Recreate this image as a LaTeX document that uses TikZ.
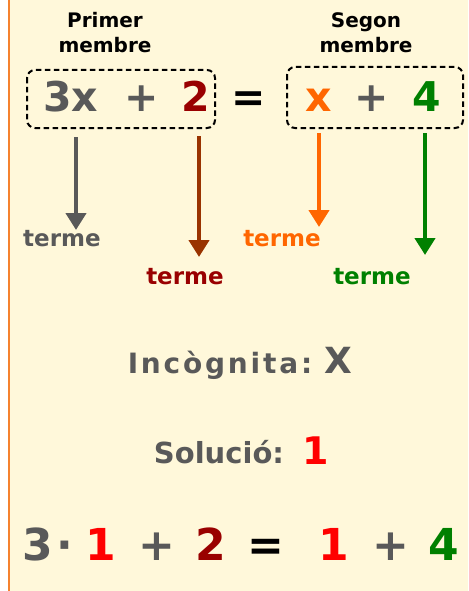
\documentclass[tikz,border=0pt]{standalone}
\usepackage{fontspec}
\setmainfont{DejaVu Sans}
\newfontfamily\espaiada[LetterSpace=10]{DejaVu Sans}
\usetikzlibrary{arrows.meta}
\definecolor{fonsc}{HTML}{FFF8DA}
\definecolor{vorac}{HTML}{F5822F}
\definecolor{grisc}{HTML}{595959}
\definecolor{vermellfosc}{HTML}{990000}
\definecolor{marroc}{HTML}{993300}
\definecolor{taronjac}{HTML}{FF6600}
\definecolor{verdc}{HTML}{008000}
\definecolor{vermellc}{HTML}{FF0000}

\begin{document}
\begin{tikzpicture}[x=1pt, y=-1pt,
  xifra/.style={anchor=base, inner sep=0pt, font=\bfseries\fontsize{41}{41}\selectfont},
  xifrab/.style={anchor=base, inner sep=0pt, font=\bfseries\fontsize{44}{44}\selectfont},
  rotol/.style={anchor=base, inner sep=0pt, font=\bfseries\fontsize{20}{20}\selectfont},
  terme/.style={anchor=base, inner sep=0pt, font=\bfseries\fontsize{23}{23}\selectfont},
  fletxa/.style={line width=4.5pt, -{Triangle[width=20pt, length=17pt]}},
  caixa/.style={draw=black, line width=2pt, dash pattern=on 5.5pt off 3.5pt, rounded corners=8pt}]
  \useasboundingbox (0,0) rectangle (468,591);
  \fill[white] (0,0) rectangle (468,591);
  \fill[fonsc] (9,0) rectangle (468,591);
  \draw[vorac, line width=2.5pt] (8.75,0) -- (8.75,591);
  % membres
  \node[rotol] (primer) at (105,28) {Primer};
  \node[rotol] (membre1) at (105,53) {membre};
  \node[rotol] (segon) at (366,28) {Segon};
  \node[rotol] (membre2) at (366,53) {membre};
  \draw[caixa] (27,70) rectangle (215,128);
  \draw[caixa] (287,67) rectangle (463,128);
  % equacio
  \node[xifra, grisc] (e3x) at (70.5,112) {3x};
  \node[xifra, grisc] (emes1) at (142,112) {+};
  \node[xifra, vermellfosc] (e2) at (196,112) {2};
  \node[xifra, black] (eigual) at (249,112) {=};
  \node[xifra, taronjac] (ex) at (319,112) {x};
  \node[xifra, grisc] (emes2) at (372,112) {+};
  \node[xifra, verdc] (e4) at (427,112) {4};
  % termes
  \node[terme, grisc] (t1) at (62,246) {terme};
  \node[terme, vermellfosc] (t2) at (185,284) {terme};
  \node[terme, taronjac] (t3) at (282,246) {terme};
  \node[terme, verdc] (t4) at (372,284) {terme};
  \coordinate (p1) at (76,137);
  \coordinate (q1) at (76,230);
  \coordinate (p2) at (199,136);
  \coordinate (q2) at (199,257);
  \coordinate (p3) at (319,133);
  \coordinate (q3) at (319,227);
  \coordinate (p4) at (425,133);
  \coordinate (q4) at (425,255);
  \draw[fletxa, grisc] (p1) -- (q1);
  \draw[fletxa, marroc] (p2) -- (q2);
  \draw[fletxa, taronjac] (p3) -- (q3);
  \draw[fletxa, verdc] (p4) -- (q4);
  % incognita i solucio
  \node[anchor=base, inner sep=0pt, grisc, font=\espaiada\bfseries\fontsize{28}{28}\selectfont] (incog) at (220,373) {Incògnita:};
  \node[anchor=base, inner sep=0pt, grisc, font=\bfseries\fontsize{36}{36}\selectfont] (lx) at (338,373) {X};
  \node[anchor=base, inner sep=0pt, grisc, font=\bfseries\fontsize{29}{29}\selectfont] (sol) at (219,463) {Solució:};
  \node[anchor=base, inner sep=0pt, vermellc, font=\bfseries\fontsize{38}{38}\selectfont] (l1) at (316,464) {1};
  % comprovacio
  \node[xifrab, grisc] (b3) at (37.5,560) {3};
  \node[xifrab, grisc] (bpunt) at (65,560) {·};
  \node[xifrab, vermellc] (b1) at (101,560) {1};
  \node[xifrab, grisc] (bmes1) at (157,560) {+};
  \node[xifrab, vermellfosc] (b2) at (211,560) {2};
  \node[xifrab, black] (bigual) at (266,560) {=};
  \node[xifrab, vermellc] (b1b) at (334,560) {1};
  \node[xifrab, grisc] (bmes2) at (391,560) {+};
  \node[xifrab, verdc] (b4) at (444,560) {4};
\end{tikzpicture}
\end{document}
